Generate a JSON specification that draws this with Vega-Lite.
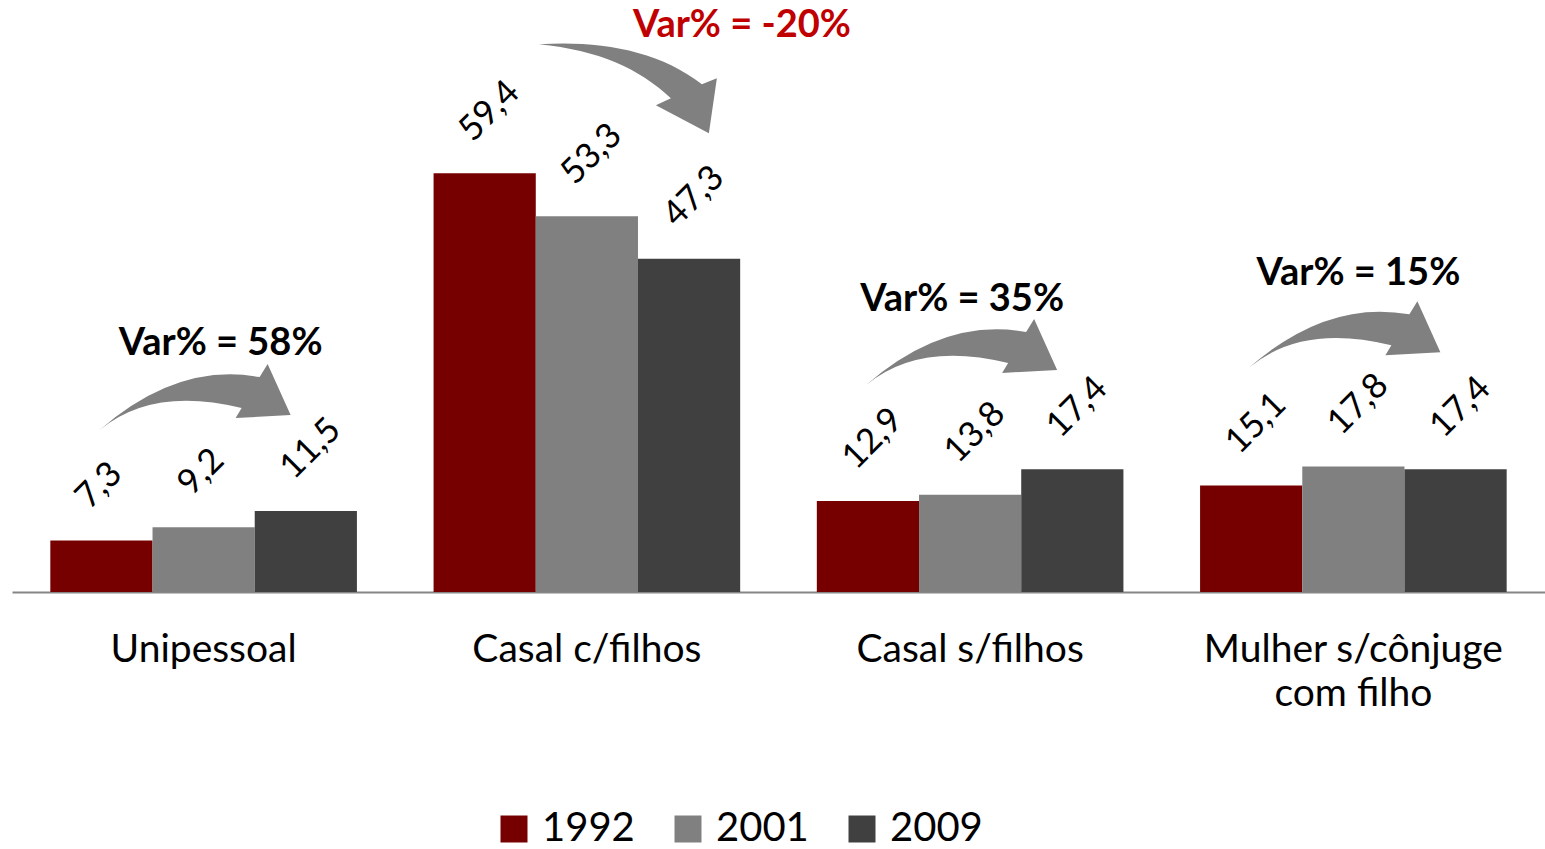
{
  "$schema": "https://vega.github.io/schema/vega-lite/v6.json",
  "width": 1533,
  "height": 592,
  "autosize": {"type": "none"},
  "padding": {"left": 12, "top": 0, "right": 0, "bottom": 257},
  "background": "white",
  "config": {
    "view": {"stroke": null},
    "font": "Lato",
    "locale": {"number": {"decimal": ",", "thousands": ".", "grouping": [3], "currency": ["R$", ""]}}
  },
  "datasets": {
    "bars": [
      {"cat": "Unipessoal", "year": "1992", "value": 7.3},
      {"cat": "Unipessoal", "year": "2001", "value": 9.2},
      {"cat": "Unipessoal", "year": "2009", "value": 11.5},
      {"cat": "Casal c/filhos", "year": "1992", "value": 59.4},
      {"cat": "Casal c/filhos", "year": "2001", "value": 53.3},
      {"cat": "Casal c/filhos", "year": "2009", "value": 47.3},
      {"cat": "Casal s/filhos", "year": "1992", "value": 12.9},
      {"cat": "Casal s/filhos", "year": "2001", "value": 13.8},
      {"cat": "Casal s/filhos", "year": "2009", "value": 17.4},
      {"cat": "Mulher s/cônjuge com filho", "year": "1992", "value": 15.1},
      {"cat": "Mulher s/cônjuge com filho", "year": "2001", "value": 17.8},
      {"cat": "Mulher s/cônjuge com filho", "year": "2009", "value": 17.4}
    ],
    "arrows": [
      {"cat": "Unipessoal", "kind": "up", "y": 27.8},
      {"cat": "Casal c/filhos", "kind": "down", "y": 71.2},
      {"cat": "Casal s/filhos", "kind": "up", "y": 34.2},
      {"cat": "Mulher s/cônjuge com filho", "kind": "up", "y": 36.7}
    ],
    "notes": [
      {"cat": "Unipessoal", "text": "Var% = 58%", "y": 35.2},
      {"cat": "Casal c/filhos", "text": "Var% = -20%", "y": 80.3},
      {"cat": "Casal s/filhos", "text": "Var% = 35%", "y": 41.4},
      {"cat": "Mulher s/cônjuge com filho", "text": "Var% = 15%", "y": 45.1}
    ]
  },
  "encoding": {
    "x": {
      "field": "cat",
      "type": "nominal",
      "sort": null,
      "scale": {
        "domain": ["Unipessoal", "Casal c/filhos", "Casal s/filhos", "Mulher s/cônjuge com filho"],
        "paddingInner": 0.2,
        "paddingOuter": 0.1
      },
      "axis": {
        "title": null,
        "domainColor": "#868686",
        "domainWidth": 2,
        "ticks": false,
        "tickSize": 0,
        "labelAngle": 0,
        "labelFont": "Lato",
        "labelFontSize": 39,
        "labelColor": "black",
        "labelPadding": 38,
        "labelLineHeight": 44,
        "labelLimit": 600,
        "labelOverlap": false,
        "labelBound": false,
        "labelExpr": "datum.label == 'Mulher s/cônjuge com filho' ? ['Mulher s/cônjuge', 'com filho'] : datum.label"
      }
    },
    "y": {"field": "value", "type": "quantitative", "scale": {"domain": [0, 84], "nice": false, "zero": true}, "axis": null}
  },
  "layer": [
    {
      "data": {"name": "bars"},
      "mark": {"type": "bar"},
      "encoding": {
        "xOffset": {"field": "year", "type": "nominal", "scale": {"paddingInner": 0, "paddingOuter": 0}},
        "color": {
          "field": "year",
          "type": "nominal",
          "scale": {"domain": ["1992", "2001", "2009"], "range": ["#760000", "#808080", "#404040"]},
          "legend": {
            "title": null,
            "orient": "none",
            "legendX": 482,
            "legendY": 809,
            "direction": "horizontal",
            "symbolType": "square",
            "symbolSize": 729,
            "symbolStrokeWidth": 0,
            "symbolOpacity": 1,
            "labelFont": "Lato",
            "labelFontSize": 40,
            "labelColor": "black",
            "labelOffset": 8,
            "columnPadding": 33,
            "padding": 0
          }
        }
      }
    },
    {
      "data": {"name": "bars"},
      "mark": {"type": "text", "align": "left", "baseline": "middle", "angle": -45, "dx": 13, "dy": -41, "font": "Lato", "fontSize": 35, "color": "black"},
      "encoding": {
        "xOffset": {"field": "year", "type": "nominal", "scale": {"paddingInner": 0, "paddingOuter": 0}},
        "text": {"field": "value", "type": "quantitative", "format": ".1f"}
      }
    },
    {
      "data": {"name": "arrows"},
      "transform": [{"filter": "datum.kind == 'up'"}],
      "mark": {"type": "point", "filled": true, "opacity": 1, "strokeWidth": 0, "color": "#808080", "size": 4,
        "shape": "M-104,34Q-26,-34 56,-19L64,-32L87,19L32,22L38,12Q-51,-10 -104,34Z"},
      "encoding": {"y": {"field": "y", "type": "quantitative"}}
    },
    {
      "data": {"name": "arrows"},
      "transform": [{"filter": "datum.kind == 'down'"}],
      "mark": {"type": "point", "filled": true, "opacity": 1, "strokeWidth": 0, "color": "#808080", "size": 4,
        "shape": "M-48,-46C12,-50 72,-40 115,-6L130,-12L122,43L69,15L84,8C52,-22 12,-40 -48,-46Z"},
      "encoding": {"y": {"field": "y", "type": "quantitative"}}
    },
    {
      "data": {"name": "notes"},
      "transform": [{"filter": "datum.cat == 'Unipessoal'"}],
      "mark": {"type": "text", "font": "Lato", "fontWeight": "bold", "fontSize": 38, "color": "black", "baseline": "middle", "align": "center", "dx": 17},
      "encoding": {"y": {"field": "y", "type": "quantitative"}, "text": {"field": "text"}}
    },
    {
      "data": {"name": "notes"},
      "transform": [{"filter": "datum.cat == 'Casal c/filhos'"}],
      "mark": {"type": "text", "font": "Lato", "fontWeight": "bold", "fontSize": 38, "color": "#C00000", "baseline": "middle", "align": "center", "dx": 155},
      "encoding": {"y": {"field": "y", "type": "quantitative"}, "text": {"field": "text"}}
    },
    {
      "data": {"name": "notes"},
      "transform": [{"filter": "datum.cat == 'Casal s/filhos'"}],
      "mark": {"type": "text", "font": "Lato", "fontWeight": "bold", "fontSize": 38, "color": "black", "baseline": "middle", "align": "center", "dx": -8},
      "encoding": {"y": {"field": "y", "type": "quantitative"}, "text": {"field": "text"}}
    },
    {
      "data": {"name": "notes"},
      "transform": [{"filter": "datum.cat == 'Mulher s/cônjuge com filho'"}],
      "mark": {"type": "text", "font": "Lato", "fontWeight": "bold", "fontSize": 38, "color": "black", "baseline": "middle", "align": "center", "dx": 5},
      "encoding": {"y": {"field": "y", "type": "quantitative"}, "text": {"field": "text"}}
    }
  ]
}
